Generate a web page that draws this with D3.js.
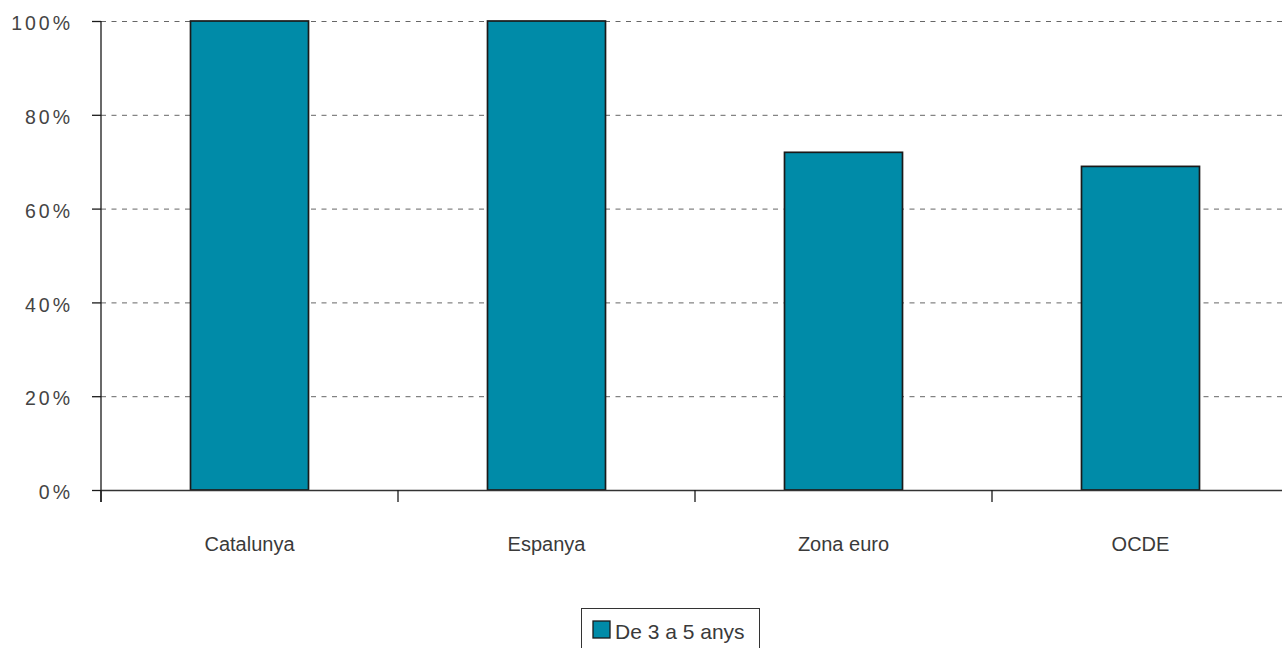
<!DOCTYPE html>
<html><head><meta charset="utf-8">
<script src="https://cdn.jsdelivr.net/npm/d3@7/dist/d3.min.js"></script>
<style>
html,body{margin:0;padding:0;background:#fff;overflow:hidden;}
text{font-family:"Liberation Sans","DejaVu Sans",sans-serif;}
</style></head><body>
<svg id="c" width="1282" height="648"></svg>
<script>
const categories = ["Catalunya","Espanya","Zona euro","OCDE"];
const values = [100, 100, 72, 69];
const seriesName = "De 3 a 5 anys";
const yTicks = [0,20,40,60,80,100];

(function(){
const svg = d3.select("#c");
const mLeft = 101, mRight = 1289, mTop = 21, mBottom = 490;
const x = d3.scaleBand().domain(categories).range([mLeft, mRight]).paddingInner(0).paddingOuter(0);
const y = d3.scaleLinear().domain([0,100]).range([mBottom, mTop]);

// gridlines
svg.append("g").selectAll("line").data(yTicks.filter(d=>d>0)).join("line")
  .attr("x1", mLeft).attr("x2", 1282)
  .attr("y1", d=>y(d)+0.5).attr("y2", d=>y(d)+0.5)
  .attr("stroke","#666").attr("stroke-width",1).attr("stroke-dasharray","5,5.5");

// bars
const bw = 118;
svg.append("g").selectAll("rect").data(values).join("rect")
  .attr("x",(d,i)=>x(categories[i]) + x.bandwidth()/2 - bw/2)
  .attr("y",d=>y(d))
  .attr("width",bw)
  .attr("height",d=>mBottom - y(d))
  .attr("fill","#008ba8").attr("stroke","#1a1a1a").attr("stroke-width",1.7);

// y axis
const ya = svg.append("g").attr("transform",`translate(${mLeft},0)`)
  .call(d3.axisLeft(y).tickValues(yTicks).tickSize(9).tickPadding(19).tickFormat(d=>d+"%"));
ya.select(".domain").remove();
ya.selectAll(".tick line").attr("stroke","#1a1a1a").attr("stroke-width",1.3);
ya.selectAll(".tick text").attr("font-size",19.5).attr("fill","#444").attr("letter-spacing","3px")
  .attr("dy", "0.45em");
svg.append("line").attr("x1",mLeft).attr("x2",mLeft).attr("y1",mTop).attr("y2",mBottom+12)
  .attr("stroke","#1a1a1a").attr("stroke-width",1.3);

// x axis
svg.append("line").attr("x1",mLeft).attr("x2",1282).attr("y1",mBottom+0.5).attr("y2",mBottom+0.5)
  .attr("stroke","#333").attr("stroke-width",1.5);
svg.append("g").selectAll("line").data(categories).join("line")
  .attr("x1",d=>x(d)).attr("x2",d=>x(d)).attr("y1",mBottom).attr("y2",mBottom+12)
  .attr("stroke","#1a1a1a").attr("stroke-width",1.3);
svg.append("g").selectAll("text").data(categories).join("text")
  .attr("x",d=>x(d)+x.bandwidth()/2).attr("y",551)
  .attr("text-anchor","middle").attr("font-size",20).attr("fill","#3a3a3a").text(d=>d);

// legend
const lg = svg.append("g");
lg.append("rect").attr("x",581.5).attr("y",608.5).attr("width",178).attr("height",50)
  .attr("fill","#fff").attr("stroke","#333").attr("stroke-width",1);
lg.append("rect").attr("x",593).attr("y",621).attr("width",17).attr("height",17)
  .attr("fill","#008ba8").attr("stroke","#1a1a1a").attr("stroke-width",1.3);
lg.append("text").attr("x",615).attr("y",639).attr("font-size",21).attr("fill","#3a3a3a").text(seriesName);
})();
</script>
</body></html>
